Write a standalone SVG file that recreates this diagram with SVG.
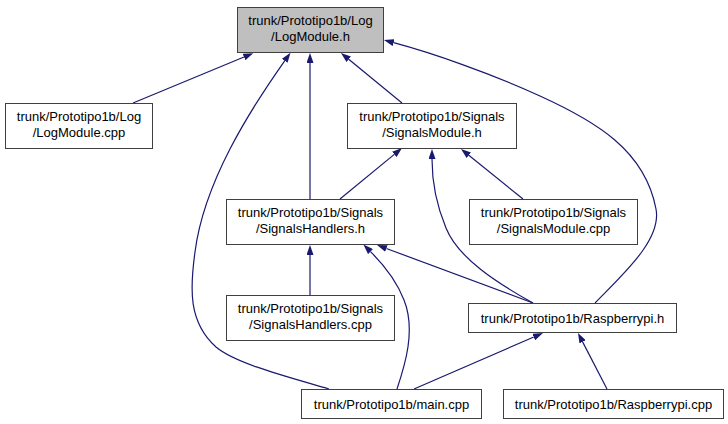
<svg xmlns="http://www.w3.org/2000/svg" width="728" height="424" viewBox="0 0 728 424">
<style>
.box{fill:#ffffff;stroke:#404040;stroke-width:1}
.cur{fill:#bfbfbf}
.lbl{font-family:"Liberation Sans",Arial,Helvetica,sans-serif;font-size:13px;fill:#000;text-anchor:middle}
.edge{fill:none;stroke:#191970;stroke-width:1.2}
</style>
<defs>
<marker id="ah" viewBox="0 0 10 7" refX="0" refY="3.5" markerWidth="10" markerHeight="7" markerUnits="userSpaceOnUse" orient="auto">
<path d="M0,0 L10,3.5 L0,7 z" fill="#191970"/>
</marker>
</defs>
<rect width="728" height="424" fill="#ffffff"/>
<g id="connectors">
<path class="edge" marker-end="url(#ah)" d="M133,103 L244,57"/>
<path class="edge" marker-end="url(#ah)" d="M329,389 C292,378 236,364 216,347 C188,322 190,288 195,252 C204,182 250,110 284.7,60.8"/>
<path class="edge" marker-end="url(#ah)" d="M310,199 L310,63"/>
<path class="edge" marker-end="url(#ah)" d="M402,103 L348.7,59.3"/>
<path class="edge" marker-end="url(#ah)" d="M595,303 C622,275 662,240 656,209 C645,150 595,121 540,96 C490,73 432,53 393.6,42.7"/>
<path class="edge" marker-end="url(#ah)" d="M340,199 L394.3,154.4"/>
<path class="edge" marker-end="url(#ah)" d="M533,303 C497,283 458,258 446,228 C436,204 432,180 432,159"/>
<path class="edge" marker-end="url(#ah)" d="M523,199 L468.8,155.3"/>
<path class="edge" marker-end="url(#ah)" d="M310,295 L310,255"/>
<path class="edge" marker-end="url(#ah)" d="M397,389 C405,365 416,330 404,300 C397,282 385,266 370.5,251.6"/>
<path class="edge" marker-end="url(#ah)" d="M533,303 L386.4,248.5"/>
<path class="edge" marker-end="url(#ah)" d="M414,389 L533.8,337"/>
<path class="edge" marker-end="url(#ah)" d="M607,389 L582.6,341.9"/>
</g>
<g id="node-logmodule-h">
<rect class="box cur" x="237.5" y="7.5" width="146" height="45"/>
<text class="lbl" x="310.5" y="24.5">trunk/Prototipo1b/Log</text>
<text class="lbl" x="310.5" y="40.5">/LogModule.h</text>
</g>
<g id="node-logmodule-cpp">
<rect class="box" x="5.5" y="103.5" width="147" height="45"/>
<text class="lbl" x="79" y="120.5">trunk/Prototipo1b/Log</text>
<text class="lbl" x="79" y="136.5">/LogModule.cpp</text>
</g>
<g id="node-signalsmodule-h">
<rect class="box" x="347.5" y="103.5" width="169" height="45"/>
<text class="lbl" x="432" y="120.5">trunk/Prototipo1b/Signals</text>
<text class="lbl" x="432" y="136.5">/SignalsModule.h</text>
</g>
<g id="node-signalsmodule-cpp">
<rect class="box" x="469.5" y="199.5" width="168" height="45"/>
<text class="lbl" x="553.5" y="216.5">trunk/Prototipo1b/Signals</text>
<text class="lbl" x="553.5" y="232.5">/SignalsModule.cpp</text>
</g>
<g id="node-signalshandlers-h">
<rect class="box" x="226.5" y="199.5" width="168" height="45"/>
<text class="lbl" x="310.5" y="216.5">trunk/Prototipo1b/Signals</text>
<text class="lbl" x="310.5" y="232.5">/SignalsHandlers.h</text>
</g>
<g id="node-signalshandlers-cpp">
<rect class="box" x="226.5" y="295.5" width="168" height="45"/>
<text class="lbl" x="310.5" y="312.5">trunk/Prototipo1b/Signals</text>
<text class="lbl" x="310.5" y="328.5">/SignalsHandlers.cpp</text>
</g>
<g id="node-raspberrypi-h">
<rect class="box" x="468.5" y="303.5" width="208" height="29"/>
<text class="lbl" x="572.5" y="322.5">trunk/Prototipo1b/Raspberrypi.h</text>
</g>
<g id="node-main-cpp">
<rect class="box" x="301.5" y="389.5" width="180" height="29"/>
<text class="lbl" x="391.5" y="408.5">trunk/Prototipo1b/main.cpp</text>
</g>
<g id="node-raspberrypi-cpp">
<rect class="box" x="503.5" y="389.5" width="220" height="29"/>
<text class="lbl" x="613.5" y="408.5">trunk/Prototipo1b/Raspberrypi.cpp</text>
</g>
</svg>
